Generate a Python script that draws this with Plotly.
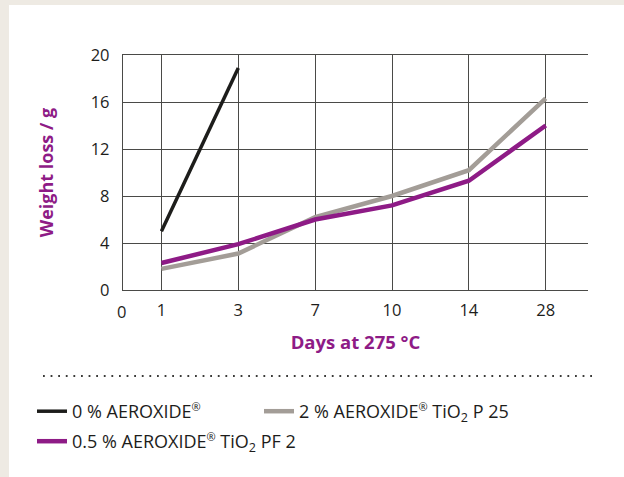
import plotly.graph_objects as go

# Days of exposure at 275 °C (category labels on the x axis)
days = ["1", "3", "7", "10", "14", "28"]

# Weight loss in grams for each formulation
loss_0 = [5.0, 18.9, None, None, None, None]
loss_p25 = [1.8, 3.1, 6.2, 8.0, 10.2, 16.3]
loss_pf2 = [2.3, 3.9, 6.0, 7.2, 9.3, 14.0]

REG = "<sup><span style='font-size:11px'>®</span></sup>"
names = [
    f"0 % AEROXIDE{REG}",
    f"2 % AEROXIDE{REG} TiO<sub>2</sub> P 25",
    f"0.5 % AEROXIDE{REG} TiO<sub>2</sub> PF 2",
]
y_ticks = [0, 4, 8, 12, 16, 20]

INK = "#1d1d1b"
GRID = "#4a4a47"
GREY = "#a39d97"
PURPLE = "#8e1b86"
BEIGE = "#eeeae3"
FONT = "Open Sans"

fig = go.Figure()
fig.add_trace(go.Scatter(x=days, y=loss_0, name=names[0], mode="lines", showlegend=True,
                         line=dict(color=INK, width=3.5), legend="legend"))
fig.add_trace(go.Scatter(x=days, y=loss_p25, name=names[1], mode="lines", showlegend=True,
                         line=dict(color=GREY, width=4.5), legend="legend2"))
fig.add_trace(go.Scatter(x=days, y=loss_pf2, name=names[2], mode="lines", showlegend=True,
                         line=dict(color=PURPLE, width=4.5), legend="legend3"))

W, H = 624, 477
L, R, T, B = 123, 36, 55, 187
pw, ph = W - L - R, H - T - B


def px_x(p):
    return (p - L) / pw


def px_y(p):
    return (H - B - p) / ph


shapes = [
    # beige page frame
    dict(type="rect", xref="paper", yref="paper", x0=px_x(0), x1=px_x(9),
         y0=px_y(H), y1=px_y(0), fillcolor=BEIGE, line_width=0, layer="below"),
    dict(type="rect", xref="paper", yref="paper", x0=px_x(0), x1=px_x(W),
         y0=px_y(5), y1=px_y(0), fillcolor=BEIGE, line_width=0, layer="below"),
    # dotted separator above the legend
    dict(type="line", xref="paper", yref="paper", x0=px_x(43), x1=px_x(592),
         y0=px_y(376), y1=px_y(376), line=dict(color="#3a3a38", width=1.8, dash="1.8px,5.8px")),
]

legend_font = dict(family=FONT, size=18, color=INK)
fig.update_layout(
    width=W, height=H,
    margin=dict(l=L, r=R, t=T, b=B),
    paper_bgcolor="white", plot_bgcolor="white",
    font=dict(family=FONT, color=INK, size=16),
    showlegend=True,
    shapes=shapes,
    legend=dict(orientation="h", x=px_x(32), xanchor="left", y=px_y(393), yanchor="top",
                font=legend_font, bgcolor="rgba(0,0,0,0)", visible=True),
    legend2=dict(orientation="h", x=px_x(259), xanchor="left", y=px_y(393), yanchor="top",
                 font=legend_font, bgcolor="rgba(0,0,0,0)", visible=True),
    legend3=dict(orientation="h", x=px_x(32), xanchor="left", y=px_y(423), yanchor="top",
                 font=legend_font, bgcolor="rgba(0,0,0,0)", visible=True),
    annotations=[
        dict(text="0", xref="x", yref="paper", x=-0.5, y=px_y(298), yanchor="top",
             showarrow=False, font=dict(family=FONT, size=16.5, color=INK), xshift=-2),
    ],
)

fig.update_xaxes(
    type="category", categoryorder="array", categoryarray=days,
    range=[-0.5, 5.55],
    showgrid=True, gridcolor=GRID, gridwidth=1.3,
    showline=True, linecolor=GRID, linewidth=1.3, mirror=True,
    ticks="", ticklabelstandoff=5,
    tickfont=dict(family=FONT, size=16.5, color=INK),
    title=dict(text="<b>Days at 275 °C</b>", font=dict(family=FONT, size=18.5, color=PURPLE),
               standoff=16),
    zeroline=False,
)
fig.update_yaxes(
    range=[0, 20], tickvals=y_ticks,
    showgrid=True, gridcolor=GRID, gridwidth=1.3,
    showline=True, linecolor=GRID, linewidth=1.3,
    ticks="", ticklabelstandoff=9,
    tickfont=dict(family=FONT, size=16.5, color=INK),
    title=dict(text="<b>Weight loss / g</b>", font=dict(family=FONT, size=18, color=PURPLE),
               standoff=32),
    zeroline=False,
)

fig.write_html("out.html")
